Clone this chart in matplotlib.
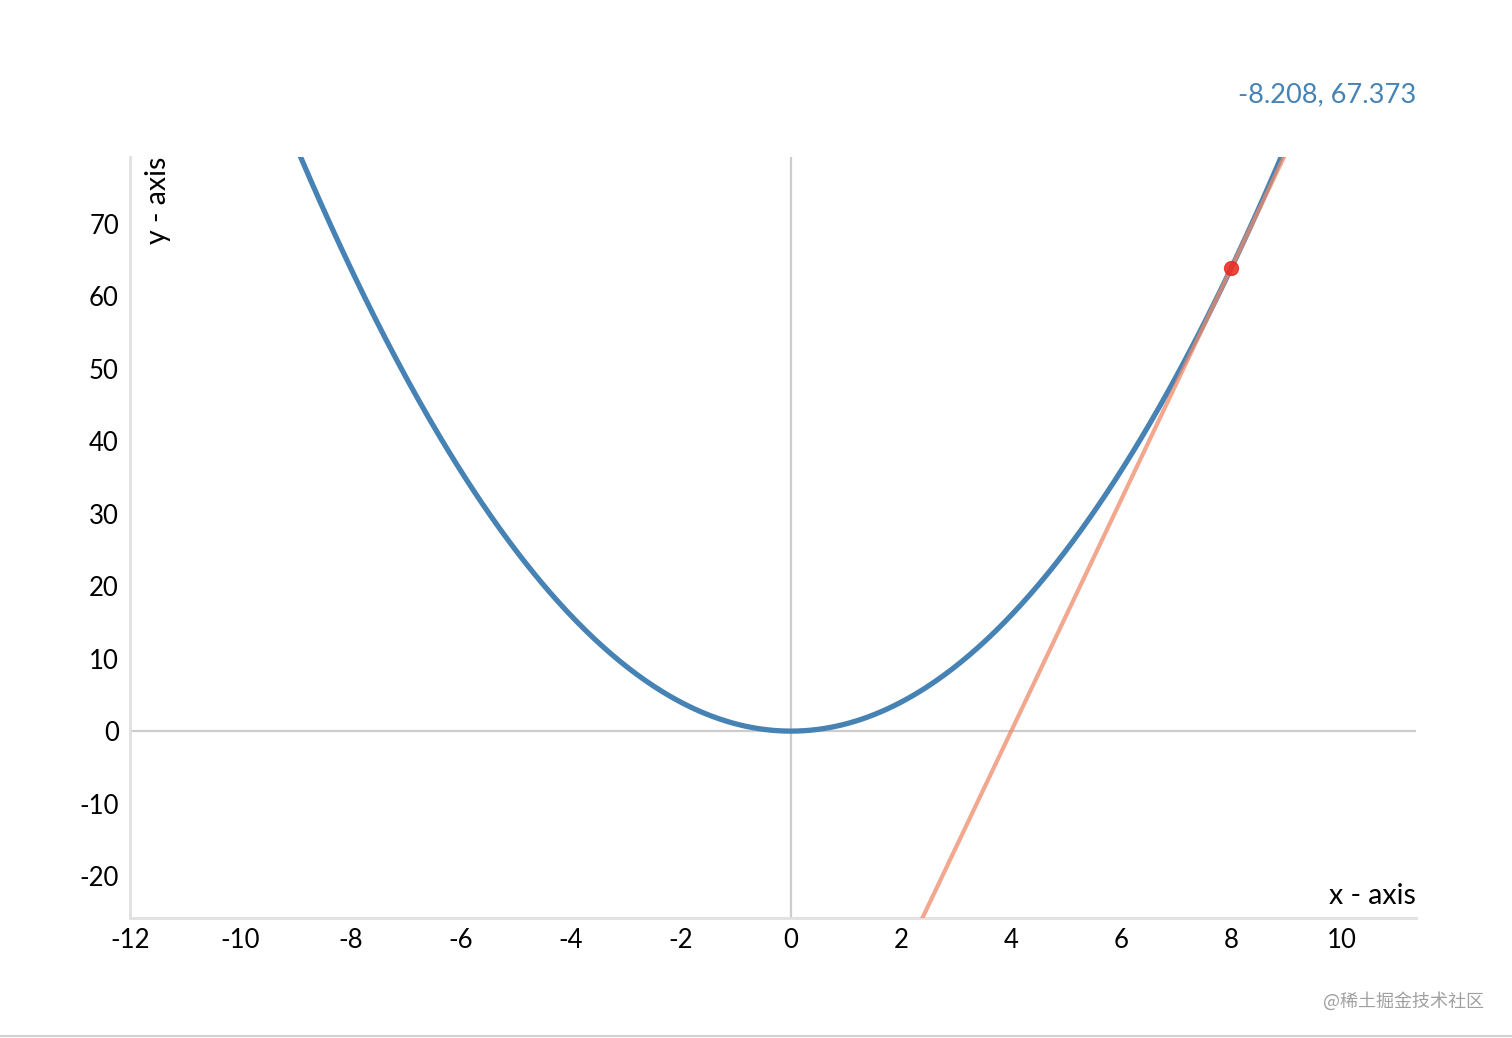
import matplotlib

matplotlib.use("Agg")
import matplotlib.pyplot as plt
import numpy as np

# domain shown in the chart
x_domain = [-12, 11.35]
y_domain = [-25.8, 79.25]
x_ticks = [-12, -10, -8, -6, -4, -2, 0, 2, 4, 6, 8, 10]
y_ticks = [-20, -10, 0, 10, 20, 30, 40, 50, 60, 70]

# function y = x^2 and tangent point
tangent_x = 8
readout = "-8.208, 67.373"  # mouse position label, top right

plt.rcParams["font.family"] = ["Lato", "DejaVu Sans"]
plt.rcParams["axes.unicode_minus"] = False

fig = plt.figure(figsize=(15.12, 10.38), dpi=100)
ax = fig.add_axes([0.086, 0.1156, 0.8505, 0.7331])

xs = np.linspace(x_domain[0], x_domain[1], 600)
ys = xs ** 2  # the plotted function
slope = 2 * tangent_x
tan_y = tangent_x ** 2 + slope * (xs - tangent_x)

# zero lines
ax.axhline(0, color="#cccccc", lw=1.6, zorder=1)
ax.axvline(0, color="#cccccc", lw=1.6, zorder=1)

ax.plot(xs, ys, color="#4682b4", lw=3.8, zorder=2)
ax.plot(xs, tan_y, color="#ee8a68", lw=3.0, alpha=0.75, zorder=3)
ax.plot([tangent_x], [tangent_x ** 2], "o", color="#e8291c", ms=10, alpha=0.85, zorder=4)

ax.set_xlim(*x_domain)
ax.set_ylim(*y_domain)
ax.set_xticks(x_ticks)
ax.set_yticks(y_ticks)
ax.tick_params(length=0, labelsize=18.5, colors="black")
ax.tick_params(axis="x", pad=7)
ax.tick_params(axis="y", pad=8)
for s in ("top", "right"):
    ax.spines[s].set_visible(False)
for s in ("left", "bottom"):
    ax.spines[s].set_color("#e0e0e0")
    ax.spines[s].set_linewidth(2)

ax.text(0.022, 1.0, "y - axis", transform=ax.transAxes, rotation=90,
        ha="center", va="top", fontsize=20.5)
ax.text(1.0, 0.012, "x - axis", transform=ax.transAxes,
        ha="right", va="bottom", fontsize=20.5)

fig.text(1416 / 1512, 1 - 95 / 1038, readout, ha="right", va="center",
         fontsize=19.5, color="#4682b4")
fig.text(1484 / 1512, 1 - 1001 / 1038, "@稀土掘金技术社区", ha="right", va="center",
         fontsize=13, color="#a0a0a0", family=["Noto Sans CJK SC", "DejaVu Sans"])
fig.add_artist(plt.Line2D([0, 1], [1 - 1036 / 1038] * 2, color="#d0d0d0", lw=1.5))

fig.savefig("out.png", dpi=100)
